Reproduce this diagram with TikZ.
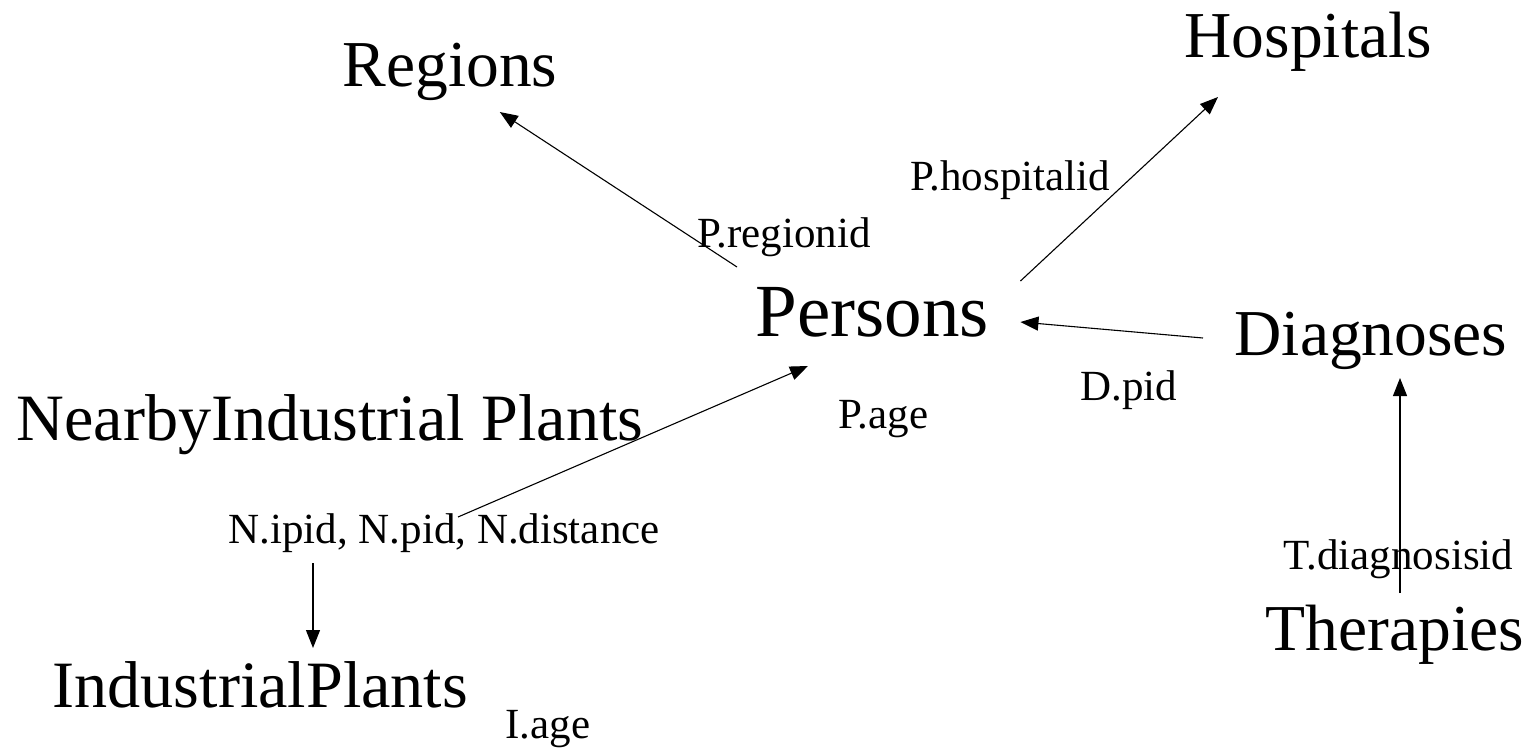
\documentclass[tikz,border=0pt]{standalone}
\usepackage{fontspec}
\setmainfont{Liberation Serif}
\usetikzlibrary{arrows.meta}

\begin{document}
\begin{tikzpicture}[x=1pt,y=-1pt,-{Triangle[length=18pt,width=14pt]},
                    line width=1.1pt]
      \tikzstyle{table}=[font=\fontsize{65.5}{70}\selectfont,inner sep=0pt,anchor=base west]
      \tikzstyle{key}=[font=\fontsize{43}{46}\selectfont,inner sep=0pt,anchor=base west]

      \useasboundingbox (0,0) rectangle (1526,749);

      \node[table] (regions)    at (342,87)   {Regions};
      \node[table] (hospitals)  at (1184,58)  {Hospitals};
      \node[table,font=\fontsize{75}{80}\selectfont]
                   (persons)    at (755,336)  {Persons};
      \node[table] (diagnoses)  at (1234,355) {Diagnoses};
      \node[table] (therapies)  at (1265,650) {Therapies};
      \node[table,font=\fontsize{66.2}{70}\selectfont]
                   (nearby)     at (16,440)   {NearbyIndustrial Plants};
      \node[table,font=\fontsize{66.2}{70}\selectfont]
                   (industrial) at (52,707)   {IndustrialPlants};

      \node[key] (pregion) at (697,247)  {P.regionid};
      \node[key] (phosp)   at (910,190)  {P.hospitalid};
      \node[key] (page)    at (838,428)  {P.age};
      \node[key] (dpid)    at (1080,400) {D.pid};
      \node[key] (tdiag)   at (1283,569) {T.diagnosisid};
      \node[key] (nkeys)   at (228,543)  {N.ipid, N.pid, N.distance};
      \node[key] (iage)    at (505,738)  {I.age};

      \draw ([shift={(-18,-69)}]persons.base west) -- ([shift={(-58,25)}]regions.base east);
      \draw ([shift={(31,-55)}]persons.base east) -- ([shift={(34,39)}]hospitals.base west);
      \draw ([shift={(-31,-17)}]diagnoses.base west) -- ([shift={(31,-14)}]persons.base east);
      \draw ([shift={(135,-57)}]therapies.base west) -- ([shift={(166,23)}]diagnoses.base west);
      \draw ([shift={(230,-26)}]nkeys.base west) -- ([shift={(53,30)}]persons.base west);
      \draw ([shift={(85,20)}]nkeys.base west) -- ([shift={(261,-59)}]industrial.base west);

    \end{tikzpicture}
\end{document}
